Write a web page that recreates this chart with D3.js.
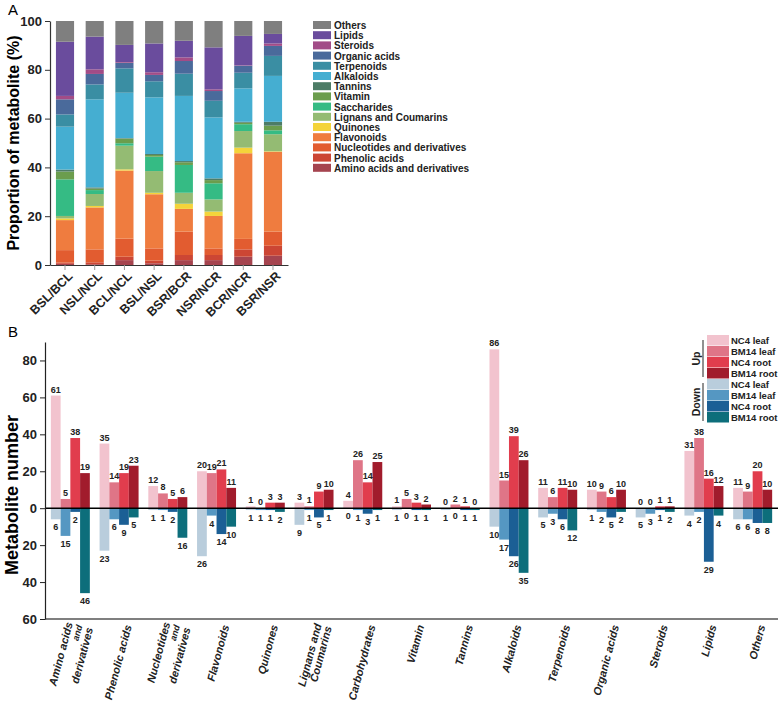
<!DOCTYPE html>
<html>
<head>
<meta charset="utf-8">
<script src="https://cdn.jsdelivr.net/npm/d3@7"></script>
<style>
    body { margin: 0; background: white; }
    svg { font-family: 'Liberation Sans', Arial, sans-serif; }
</style>
</head>
<body>
<script>

// ---- panel A : proportion of metabolite classes per comparison
const comparisons = ['BSL/BCL', 'NSL/NCL', 'BCL/NCL', 'BSL/NSL', 'BSR/BCR', 'NSR/NCR', 'BCR/NCR', 'BSR/NSR']

const classesA = ['Amino acids and derivatives', 'Phenolic acids', 'Nucleotides and derivatives', 'Flavonoids',
    'Quinones', 'Lignans and Coumarins', 'Saccharides', 'Vitamin', 'Tannins', 'Alkaloids', 'Terpenoids',
    'Organic acids', 'Steroids', 'Lipids', 'Others']

const classColors = ['#a5444f', '#cc4634', '#e25c30', '#ef7c3f', '#f4d43a', '#94bb73', '#35bb84', '#6b9d4d',
    '#4d7c66', '#45aed1', '#3a8ea3', '#4a6a9b', '#a24c87', '#6a4c9d', '#7f7f7f']

// % per class, one row per comparison (same order as classesA)
const proportions = [
    [0.5, 0.5, 5.1, 12.3, 0.7, 1.0, 15.0, 3.2, 0.8, 17.6, 5.0, 6.2, 1.4, 22.2, 8.5],
    [0.3, 0.8, 5.3, 17.2, 0.6, 4.9, 1.6, 0.6, 0.5, 36.1, 6.1, 4.3, 1.9, 13.4, 6.4],
    [2.0, 1.4, 7.4, 27.9, 0.5, 9.7, 1.0, 1.9, 0.2, 18.6, 10.0, 2.3, 0.3, 7.0, 9.8],
    [0.7, 1.1, 5.0, 22.2, 0.6, 8.9, 5.9, 0.7, 0.4, 23.2, 6.6, 2.6, 1.1, 11.8, 9.2],
    [2.0, 2.1, 9.6, 9.3, 2.1, 4.5, 11.4, 1.1, 0.5, 26.7, 9.1, 5.2, 1.5, 6.8, 8.1],
    [2.0, 2.1, 2.7, 13.3, 1.8, 5.0, 6.6, 1.3, 0.7, 25.0, 6.8, 4.0, 0.7, 17.2, 10.8],
    [3.4, 3.0, 4.3, 35.1, 2.3, 6.8, 2.8, 0.6, 0.4, 13.7, 6.4, 2.8, 0.2, 12.1, 6.1],
    [3.8, 4.1, 5.8, 32.7, 0.2, 7.0, 1.6, 1.9, 1.6, 18.8, 8.2, 4.1, 1.0, 3.9, 5.3]
]

const ticksA = [0, 20, 40, 60, 80, 100]

// ---- panel B : up / down regulated metabolite numbers
const categoriesB = ['Amino acids|and|derivatives', 'Phenolic acids', 'Nucleotides|and|derivatives', 'Flavonoids',
    'Quinones', 'Lignans and|Coumarins', 'Carbohydrates', 'Vitamin', 'Tannins', 'Alkaloids', 'Terpenoids',
    'Organic acids', 'Steroids', 'Lipids', 'Others']

const seriesB = ['NC4 leaf', 'BM14 leaf', 'NC4 root', 'BM14 root']
const upColors = ['#f2c3ce', '#df7587', '#e13d4d', '#a11c2c']
const downColors = ['#b9cddc', '#5597c2', '#1b5f95', '#0d6e7b']

const upValues = [
    [61, 35, 12, 20, 1, 3, 4, 1, 0, 86, 11, 10, 0, 31, 11],
    [5, 14, 8, 19, 0, 1, 26, 5, 2, 15, 6, 9, 0, 38, 9],
    [38, 19, 5, 21, 3, 9, 14, 3, 1, 39, 11, 6, 1, 16, 20],
    [19, 23, 6, 11, 3, 10, 25, 2, 0, 26, 10, 10, 1, 12, 10]
]

const downValues = [
    [6, 23, 1, 26, 1, 9, 0, 1, 1, 10, 5, 1, 5, 4, 6],
    [15, 6, 1, 4, 1, 1, 1, 0, 0, 17, 3, 2, 3, 2, 6],
    [2, 9, 2, 14, 1, 5, 3, 1, 1, 26, 6, 5, 1, 29, 8],
    [46, 5, 16, 10, 2, 1, 1, 1, 1, 35, 12, 2, 2, 4, 8]
]

const ticksB = [-60, -40, -20, 0, 20, 40, 60, 80]


class chartHandler {

    constructor() {
        this.svg = d3.select('body').append('svg')
            .attr('width', 782)
            .attr('height', 703)
    }

    drawPanelA() {
        const svg = this.svg

        const x = d3.scaleBand().domain(comparisons).range([50, 288]).paddingInner(0.39).paddingOuter(0.2)
        const y = d3.scaleLinear().domain([0, 100]).range([265, 21])

        svg.append('text').attr('x', 8).attr('y', 15).text('A')
            .style('font-size', '15px')

        // stack the segments
        const rows = proportions.map((p, i) => {
            const row = { comparison: comparisons[i] }
            classesA.forEach((c, j) => row[c] = p[j])
            return row
        })
        const stacked = d3.stack().keys(classesA)(rows)

        svg.append('g').selectAll('g')
            .data(stacked)
            .join('g')
            .attr('fill', (d, i) => classColors[i])
            .selectAll('rect')
            .data(d => d)
            .join('rect')
            .attr('x', d => x(d.data.comparison))
            .attr('width', x.bandwidth())
            .attr('y', d => y(d[1]))
            .attr('height', d => y(d[0]) - y(d[1]))

        const yAxis = svg.append('g')
            .attr('transform', 'translate(50,0)')
            .call(d3.axisLeft(y).tickValues(ticksA).tickSize(5).tickSizeOuter(0))
        yAxis.selectAll('text').style('font-size', '13px').style('font-weight', 'bold').attr('fill', '#222')
        yAxis.select('.domain').attr('stroke', '#333').attr('stroke-width', 1.2)
        yAxis.selectAll('.tick line').attr('stroke', '#333')

        const xAxis = svg.append('g')
            .attr('transform', 'translate(0,265)')
            .call(d3.axisBottom(x).tickSize(5).tickSizeOuter(0))
        xAxis.select('.domain').attr('stroke', '#333').attr('stroke-width', 1.2)
        xAxis.selectAll('.tick line').attr('stroke', '#999')
        xAxis.selectAll('text')
            .style('font-size', '12.5px')
            .style('font-weight', 'bold')
            .attr('fill', '#222')
            .style('text-anchor', 'end')
            .attr('dx', '-0.2em')
            .attr('dy', '0.5em')
            .attr('transform', 'rotate(-45)')

        svg.append('text')
            .attr('transform', 'translate(19,143) rotate(-90)')
            .style('text-anchor', 'middle')
            .style('font-size', '16px')
            .style('font-weight', 'bold')
            .text('Proportion of metabolite (%)')

        // legend, drawn top to bottom from Others
        const legend = svg.append('g').attr('transform', 'translate(313,21)')
        const order = classesA.slice().reverse()
        const items = legend.selectAll('g')
            .data(order)
            .join('g')
            .attr('transform', (d, i) => 'translate(0,' + (i * 10.2) + ')')
        items.append('rect')
            .attr('width', 18).attr('height', 8)
            .attr('fill', d => classColors[classesA.indexOf(d)])
        items.append('text')
            .attr('x', 21).attr('y', 8)
            .style('font-size', '10px')
            .style('font-weight', 'bold')
            .attr('fill', '#222')
            .text(d => d)
    }

    drawPanelB() {
        const svg = this.svg

        const x = d3.scaleBand().domain(categoriesB).range([45, 778]).paddingInner(0.2).paddingOuter(0.12)
        const x1 = d3.scaleBand().domain(seriesB).range([0, x.bandwidth()])
        const y = d3.scaleLinear().domain([-60, 90]).range([619, 342])

        svg.append('text').attr('x', 8).attr('y', 337).text('B')
            .style('font-size', '15px')

        const flat = (values, colors, sign) => {
            const out = []
            values.forEach((vals, s) => {
                vals.forEach((v, c) => out.push({ cat: categoriesB[c], series: seriesB[s], value: v, sign: sign, color: colors[s] }))
            })
            return out
        }
        const bars = flat(upValues, upColors, 1).concat(flat(downValues, downColors, -1))

        const groups = svg.append('g')
        groups.selectAll('rect')
            .data(bars)
            .join('rect')
            .attr('x', d => x(d.cat) + x1(d.series))
            .attr('width', x1.bandwidth())
            .attr('y', d => d.sign > 0 ? y(d.value) : y(0))
            .attr('height', d => Math.abs(y(d.value) - y(0)))
            .attr('fill', d => d.color)

        groups.selectAll('text')
            .data(bars)
            .join('text')
            .attr('x', d => x(d.cat) + x1(d.series) + x1.bandwidth() / 2)
            .attr('y', d => d.sign > 0 ? y(d.value) - 3 : y(-d.value) + 11)
            .style('text-anchor', 'middle')
            .style('font-size', '9px')
            .style('font-weight', 'bold')
            .attr('fill', '#222')
            .text(d => d.value)

        // zero line
        svg.append('line')
            .attr('x1', 45).attr('x2', 778)
            .attr('y1', y(0)).attr('y2', y(0))
            .attr('stroke', 'black').attr('stroke-width', 1.5)

        // bottom line
        svg.append('line')
            .attr('x1', 45).attr('x2', 778)
            .attr('y1', y(-60)).attr('y2', y(-60))
            .attr('stroke', '#555').attr('stroke-width', 1.5)

        const yAxis = svg.append('g')
            .attr('transform', 'translate(45,0)')
            .call(d3.axisLeft(y).tickValues(ticksB).tickFormat(d => Math.abs(d)).tickSize(5).tickSizeOuter(0))
        yAxis.selectAll('text').style('font-size', '13px').style('font-weight', 'bold').attr('fill', '#222')
        yAxis.select('.domain').attr('stroke', '#222').attr('stroke-width', 1.2)
        yAxis.selectAll('.tick line').attr('stroke', '#222')

        // category labels
        const labels = svg.append('g').selectAll('g')
            .data(categoriesB)
            .join('g')
            .attr('transform', d => 'translate(' + (x(d) + x.bandwidth() / 2 + 9) + ',625) rotate(-75)')
        labels.each(function(d) {
            const lines = d.split('|')
            const t = d3.select(this).append('text')
                .style('text-anchor', 'end')
                .style('font-size', '11px')
                .style('font-weight', 'bold')
                .style('font-style', 'italic')
                .attr('fill', '#222')
            lines.forEach((line, i) => {
                t.append('tspan')
                    .attr('x', 0)
                    .attr('y', (i - (lines.length - 1) / 2) * 10.5)
                    .attr('dy', '0.35em')
                    .style('font-size', line === 'and' ? '9px' : '11px')
                    .text(line)
            })
        })

        svg.append('text')
            .attr('transform', 'translate(18,495) rotate(-90)')
            .style('text-anchor', 'middle')
            .style('font-size', '18px')
            .style('font-weight', 'bold')
            .text('Metabolite number')

        // legend
        const legend = svg.append('g').attr('transform', 'translate(707,335)')
        const entries = seriesB.map((s, i) => ({ name: s, color: upColors[i] }))
            .concat(seriesB.map((s, i) => ({ name: s, color: downColors[i] })))
        const items = legend.selectAll('g')
            .data(entries)
            .join('g')
            .attr('transform', (d, i) => 'translate(0,' + (i * 11) + ')')
        items.append('rect')
            .attr('width', 22).attr('height', 10.5)
            .attr('fill', d => d.color)
        items.append('text')
            .attr('x', 24).attr('y', 9)
            .style('font-size', '9.5px')
            .style('font-weight', 'bold')
            .attr('fill', '#222')
            .text(d => d.name)

        const brackets = [{ label: 'Up', y0: 340, y1: 377 }, { label: 'Down', y0: 383, y1: 421 }]
        brackets.forEach(b => {
            svg.append('line')
                .attr('x1', 703).attr('x2', 703)
                .attr('y1', b.y0).attr('y2', b.y1)
                .attr('stroke', '#222').attr('stroke-width', 1)
            svg.append('text')
                .attr('transform', 'translate(700,' + ((b.y0 + b.y1) / 2) + ') rotate(-90)')
                .style('text-anchor', 'middle')
                .style('font-size', '10.5px')
                .style('font-weight', 'bold')
                .attr('fill', '#222')
                .text(b.label)
        })
    }
}

const chart = new chartHandler()
chart.drawPanelA()
chart.drawPanelB()

</script>
</body>
</html>
